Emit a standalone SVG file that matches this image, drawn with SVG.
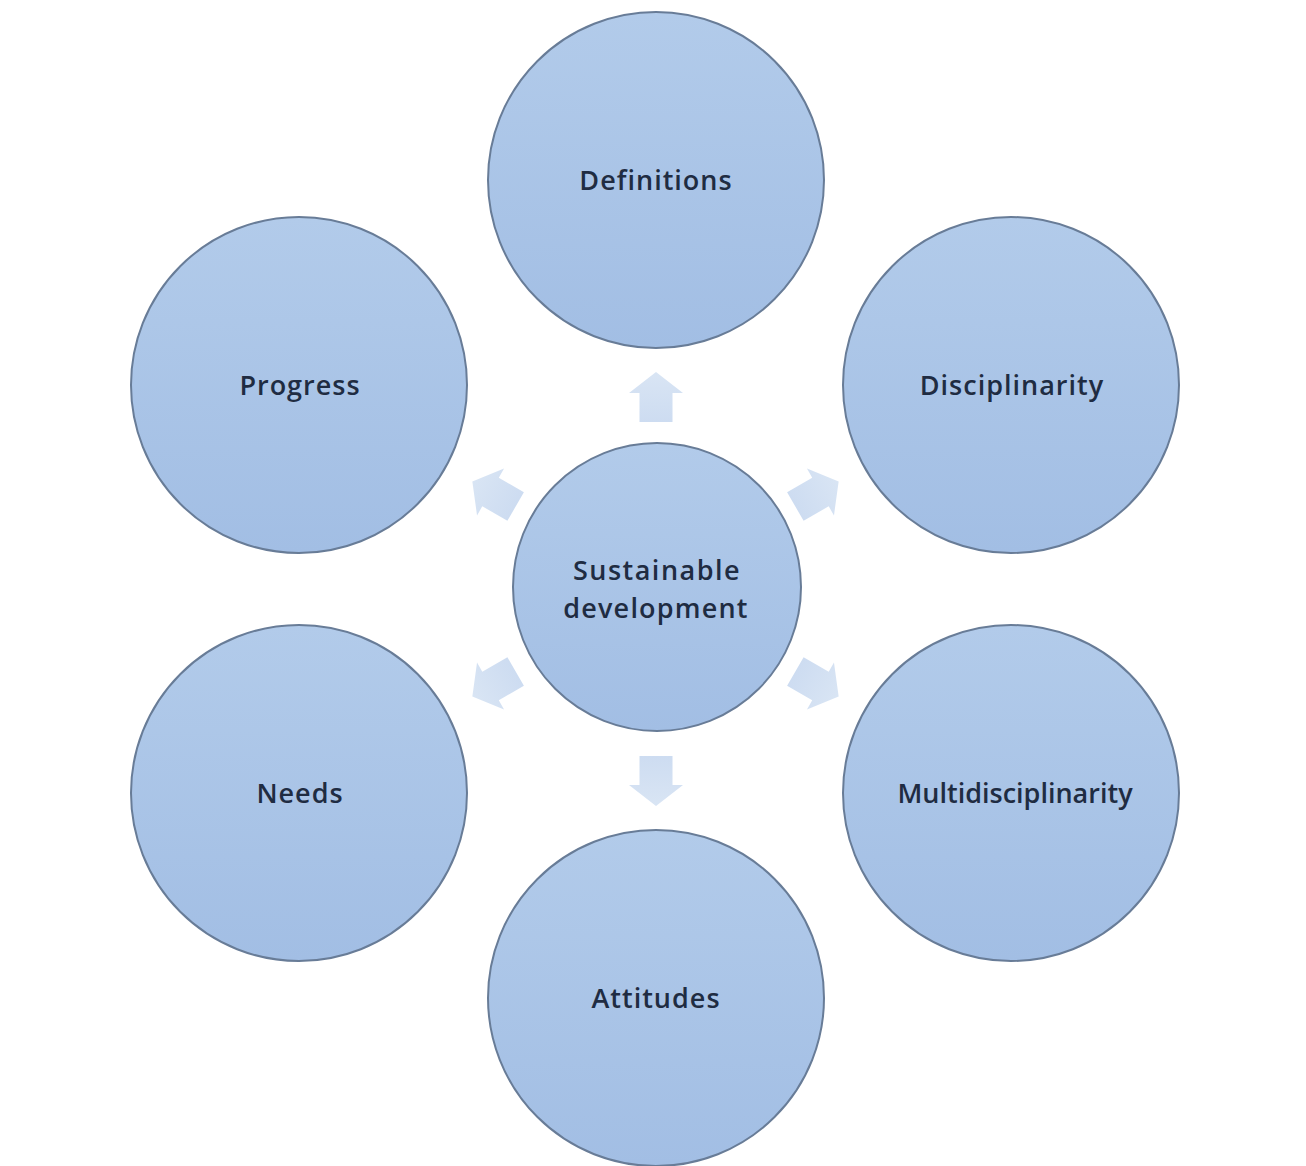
<svg xmlns="http://www.w3.org/2000/svg" width="1306" height="1166" viewBox="0 0 1306 1166">
<defs>
<linearGradient id="g" x1="0" y1="0" x2="0" y2="1">
<stop offset="0" stop-color="#b2cbea"/>
<stop offset="1" stop-color="#a2bee4"/>
</linearGradient>
<linearGradient id="ag" x1="0" y1="0" x2="0" y2="1">
<stop offset="0" stop-color="#d9e5f4"/>
<stop offset="1" stop-color="#cddcf1"/>
</linearGradient>
<path id="arrow" d="M0,-25 L27,-4 L16.5,-4 L16.5,25 L-16.5,25 L-16.5,-4 L-27,-4 Z"/>
</defs>
<style>
.node circle{fill:url(#g);stroke:#687c97;stroke-width:2}
.node text{font-family:"Open Sans","Noto Sans",sans-serif;font-size:27px;font-weight:600;fill:#1f2c42;text-anchor:middle;letter-spacing:1px}
.conn use{fill:url(#ag)}
</style>
<rect width="1306" height="1166" fill="#ffffff"/>
<g id="connectors" class="conn">
<use href="#arrow" transform="translate(656,397)"/>
<use href="#arrow" transform="translate(817,494) rotate(60)"/>
<use href="#arrow" transform="translate(817,684) rotate(120)"/>
<use href="#arrow" transform="translate(656,781) rotate(180)"/>
<use href="#arrow" transform="translate(494,684) rotate(-120)"/>
<use href="#arrow" transform="translate(494,494) rotate(-60)"/>
</g>
<g id="node-center" class="node"><circle cx="657" cy="587" r="144"/><text x="657" y="580" style="letter-spacing:1.5px">Sustainable</text><text x="656" y="618" style="letter-spacing:1.2px">development</text></g>
<g id="node-definitions" class="node"><circle cx="656" cy="180" r="168"/><text x="656" y="190">Definitions</text></g>
<g id="node-progress" class="node"><circle cx="299" cy="385" r="168"/><text x="300" y="395">Progress</text></g>
<g id="node-disciplinarity" class="node"><circle cx="1011" cy="385" r="168"/><text x="1012" y="395">Disciplinarity</text></g>
<g id="node-needs" class="node"><circle cx="299" cy="793" r="168"/><text x="300" y="803">Needs</text></g>
<g id="node-multidisciplinarity" class="node"><circle cx="1011" cy="793" r="168"/><text x="1015" y="803" style="letter-spacing:0px">Multidisciplinarity</text></g>
<g id="node-attitudes" class="node"><circle cx="656" cy="998" r="168"/><text x="656" y="1008">Attitudes</text></g>
</svg>
